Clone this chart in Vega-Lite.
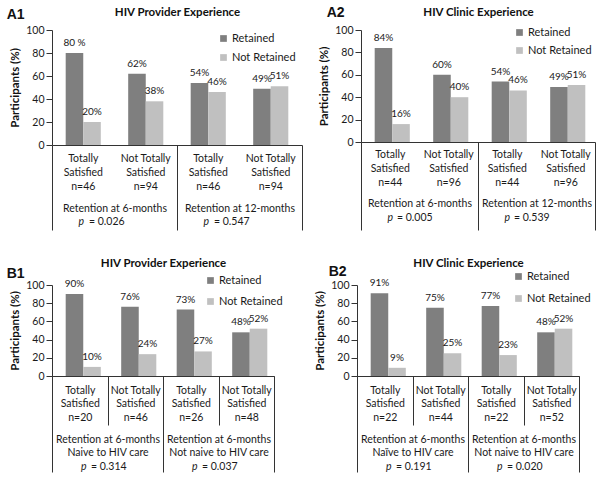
{
  "$schema": "https://vega.github.io/schema/vega-lite/v6.json",
  "padding": {"left": 6, "top": 5, "right": 2, "bottom": 2},
  "background": "white",
  "datasets": {
    "A1": [
      {"cat": "Totally|Satisfied|n=46|6", "status": "Retained", "pct": 80, "label": "80 %"},
      {"cat": "Totally|Satisfied|n=46|6", "status": "Not Retained", "pct": 20, "label": "20%"},
      {"cat": "Not Totally|Satisfied|n=94|6", "status": "Retained", "pct": 62, "label": "62%"},
      {"cat": "Not Totally|Satisfied|n=94|6", "status": "Not Retained", "pct": 38, "label": "38%"},
      {"cat": "Totally|Satisfied|n=46|12", "status": "Retained", "pct": 54, "label": "54%"},
      {"cat": "Totally|Satisfied|n=46|12", "status": "Not Retained", "pct": 46, "label": "46%"},
      {"cat": "Not Totally|Satisfied|n=94|12", "status": "Retained", "pct": 49, "label": "49%"},
      {"cat": "Not Totally|Satisfied|n=94|12", "status": "Not Retained", "pct": 51, "label": "51%"}
    ],
    "A1p": [
      {"period": "Retention at 6-months|p|= 0.026", "pct": 0},
      {"period": "Retention at 12-months|p|= 0.547", "pct": 0}
    ],
    "A2": [
      {"cat": "Totally|Satisfied|n=44|6", "status": "Retained", "pct": 84, "label": "84%"},
      {"cat": "Totally|Satisfied|n=44|6", "status": "Not Retained", "pct": 16, "label": "16%"},
      {"cat": "Not Totally|Satisfied|n=96|6", "status": "Retained", "pct": 60, "label": "60%"},
      {"cat": "Not Totally|Satisfied|n=96|6", "status": "Not Retained", "pct": 40, "label": "40%"},
      {"cat": "Totally|Satisfied|n=44|12", "status": "Retained", "pct": 54, "label": "54%"},
      {"cat": "Totally|Satisfied|n=44|12", "status": "Not Retained", "pct": 46, "label": "46%"},
      {"cat": "Not Totally|Satisfied|n=96|12", "status": "Retained", "pct": 49, "label": "49%"},
      {"cat": "Not Totally|Satisfied|n=96|12", "status": "Not Retained", "pct": 51, "label": "51%"}
    ],
    "A2p": [
      {"period": "Retention at 6-months|p|= 0.005", "pct": 0},
      {"period": "Retention at 12-months|p|= 0.539", "pct": 0}
    ],
    "B1": [
      {"cat": "Totally|Satisfied|n=20|a", "status": "Retained", "pct": 90, "label": "90%"},
      {"cat": "Totally|Satisfied|n=20|a", "status": "Not Retained", "pct": 10, "label": "10%"},
      {"cat": "Not Totally|Satisfied|n=46|a", "status": "Retained", "pct": 76, "label": "76%"},
      {"cat": "Not Totally|Satisfied|n=46|a", "status": "Not Retained", "pct": 24, "label": "24%"},
      {"cat": "Totally|Satisfied|n=26|b", "status": "Retained", "pct": 73, "label": "73%"},
      {"cat": "Totally|Satisfied|n=26|b", "status": "Not Retained", "pct": 27, "label": "27%"},
      {"cat": "Not Totally|Satisfied|n=48|b", "status": "Retained", "pct": 48, "label": "48%"},
      {"cat": "Not Totally|Satisfied|n=48|b", "status": "Not Retained", "pct": 52, "label": "52%"}
    ],
    "B1p": [
      {"period": "Retention at 6-months|Naive to HIV care|p|= 0.314", "pct": 0},
      {"period": "Retention at 6-months|Not naive to HIV care|p|= 0.037", "pct": 0}
    ],
    "B2": [
      {"cat": "Totally|Satisfied|n=22|a", "status": "Retained", "pct": 91, "label": "91%"},
      {"cat": "Totally|Satisfied|n=22|a", "status": "Not Retained", "pct": 9, "label": "9%"},
      {"cat": "Not Totally|Satisfied|n=44|a", "status": "Retained", "pct": 75, "label": "75%"},
      {"cat": "Not Totally|Satisfied|n=44|a", "status": "Not Retained", "pct": 25, "label": "25%"},
      {"cat": "Totally|Satisfied|n=22|b", "status": "Retained", "pct": 77, "label": "77%"},
      {"cat": "Totally|Satisfied|n=22|b", "status": "Not Retained", "pct": 23, "label": "23%"},
      {"cat": "Not Totally|Satisfied|n=52|b", "status": "Retained", "pct": 48, "label": "48%"},
      {"cat": "Not Totally|Satisfied|n=52|b", "status": "Not Retained", "pct": 52, "label": "52%"}
    ],
    "B2p": [
      {"period": "Retention at 6-months|Naïve to HIV care|p|= 0.191", "pct": 0},
      {"period": "Retention at 6-months|Not naive to HIV care|p|= 0.020", "pct": 0}
    ]
  },
  "resolve": {"legend": {"color": "independent"}},
  "vconcat": [
    {
      "spacing": 15,
      "resolve": {"legend": {"color": "independent"}},
      "hconcat": [
        {
          "title": {"text": "A1", "dx": -3, "dy": 19},
          "width": 250, "height": 115,
          "resolve": {"scale": {"x": "independent"}, "axis": {"x": "independent"}},
          "encoding": {
            "y": {"field": "pct", "type": "quantitative", "scale": {"domain": [0, 100], "nice": false}, "axis": {"values": [0, 20, 40, 60, 80, 100], "title": "Participants (%)"}}
          },
          "layer": [
            {
              "data": {"name": "A1"},
              "encoding": {
                "x": {"field": "cat", "type": "nominal", "sort": null, "scale": {"paddingInner": 0, "paddingOuter": 0},
                  "axis": {"title": null, "labelAngle": 0, "labelExpr": "slice(split(datum.label, '|'), 0, 3)", "ticks": false, "labelPadding": 8, "labelBaseline": "top", "labelLineHeight": 14, "labelOverlap": false, "labelBound": false}},
                "xOffset": {"field": "status", "type": "nominal", "sort": ["Retained", "Not Retained"], "scale": {"paddingOuter": 0.78, "paddingInner": 0}}
              },
              "layer": [
                {"mark": "bar", "encoding": {"color": {"field": "status", "type": "nominal", "scale": {"domain": ["Retained", "Not Retained"], "range": ["#7f7f7f", "#c0c0c0"]}, "legend": {"orient": "none", "legendX": 166, "legendY": 3, "rowPadding": 7}}}},
                {"mark": {"type": "text", "baseline": "bottom", "dy": -5}, "encoding": {"text": {"field": "label"}}}
              ]
            },
            {
              "data": {"name": "A1p"},
              "mark": {"type": "text", "opacity": 0},
              "encoding": {
                "x": {"field": "period", "type": "nominal", "sort": null, "scale": {"paddingInner": 0, "paddingOuter": 0},
                  "axis": {"orient": "bottom", "title": null, "domain": false, "ticks": true, "tickBand": "extent", "tickSize": 85, "labelPadding": -27, "labelBaseline": "top", "labelAngle": 0, "labelExpr": "split(datum.label, '|')[0]", "labelOverlap": false, "labelBound": false}},
                "text": {"value": ""}
              }
            },
            {
              "data": {"name": "A1p"},
              "mark": {"type": "text", "opacity": 0},
              "encoding": {
                "x": {"field": "period", "type": "nominal", "sort": null, "scale": {"paddingInner": 0, "paddingOuter": 0},
                  "axis": {"orient": "bottom", "title": null, "domain": false, "ticks": false, "labelPadding": 71, "labelBaseline": "top", "labelAngle": 0, "labelExpr": "split(datum.label, '|')[1]", "labelFontStyle": "italic", "labelAlign": "right", "labelOffset": -31, "labelOverlap": false, "labelBound": false}},
                "text": {"value": ""}
              }
            },
            {
              "data": {"name": "A1p"},
              "mark": {"type": "text", "opacity": 0},
              "encoding": {
                "x": {"field": "period", "type": "nominal", "sort": null, "scale": {"paddingInner": 0, "paddingOuter": 0},
                  "axis": {"orient": "bottom", "title": null, "domain": false, "ticks": false, "labelPadding": 71, "labelBaseline": "top", "labelAngle": 0, "labelExpr": "split(datum.label, '|')[2]", "labelAlign": "left", "labelOffset": -26, "labelOverlap": false, "labelBound": false}},
                "text": {"value": ""}
              }
            },
            {
              "data": {"name": "A1p"},
              "mark": {"type": "text", "opacity": 0},
              "encoding": {
                "x": {"field": "period", "type": "nominal", "sort": null, "scale": {"paddingInner": 0, "paddingOuter": 0},
                  "axis": {"orient": "top", "title": "HIV Provider Experience", "titlePadding": 12.5, "domain": false, "ticks": false, "labels": false}},
                "text": {"value": ""}
              }
            }
          ]
        },
        {
          "title": {"text": "A2", "dx": 8, "dy": 17},
          "width": 234, "height": 112,
          "resolve": {"scale": {"x": "independent"}, "axis": {"x": "independent"}},
          "encoding": {
            "y": {"field": "pct", "type": "quantitative", "scale": {"domain": [0, 100], "nice": false}, "axis": {"values": [0, 20, 40, 60, 80, 100], "title": "Participants (%)"}}
          },
          "layer": [
            {
              "data": {"name": "A2"},
              "encoding": {
                "x": {"field": "cat", "type": "nominal", "sort": null, "scale": {"paddingInner": 0, "paddingOuter": 0},
                  "axis": {"title": null, "labelAngle": 0, "labelExpr": "slice(split(datum.label, '|'), 0, 3)", "ticks": false, "labelPadding": 7, "labelBaseline": "top", "labelLineHeight": 14, "labelOverlap": false, "labelBound": false}},
                "xOffset": {"field": "status", "type": "nominal", "sort": ["Retained", "Not Retained"], "scale": {"paddingOuter": 0.78, "paddingInner": 0}}
              },
              "layer": [
                {"mark": "bar", "encoding": {"color": {"field": "status", "type": "nominal", "scale": {"domain": ["Retained", "Not Retained"], "range": ["#7f7f7f", "#c0c0c0"]}, "legend": {"orient": "none", "legendX": 153, "legendY": -3, "rowPadding": 6}}}},
                {"mark": {"type": "text", "baseline": "bottom", "dy": -5}, "encoding": {"text": {"field": "label"}}}
              ]
            },
            {
              "data": {"name": "A2p"},
              "mark": {"type": "text", "opacity": 0},
              "encoding": {
                "x": {"field": "period", "type": "nominal", "sort": null, "scale": {"paddingInner": 0, "paddingOuter": 0},
                  "axis": {"orient": "bottom", "title": null, "domain": false, "ticks": true, "tickBand": "extent", "tickSize": 88, "labelPadding": -32, "labelBaseline": "top", "labelAngle": 0, "labelExpr": "split(datum.label, '|')[0]", "labelOverlap": false, "labelBound": false}},
                "text": {"value": ""}
              }
            },
            {
              "data": {"name": "A2p"},
              "mark": {"type": "text", "opacity": 0},
              "encoding": {
                "x": {"field": "period", "type": "nominal", "sort": null, "scale": {"paddingInner": 0, "paddingOuter": 0},
                  "axis": {"orient": "bottom", "title": null, "domain": false, "ticks": false, "labelPadding": 70, "labelBaseline": "top", "labelAngle": 0, "labelExpr": "split(datum.label, '|')[1]", "labelFontStyle": "italic", "labelAlign": "right", "labelOffset": -27, "labelOverlap": false, "labelBound": false}},
                "text": {"value": ""}
              }
            },
            {
              "data": {"name": "A2p"},
              "mark": {"type": "text", "opacity": 0},
              "encoding": {
                "x": {"field": "period", "type": "nominal", "sort": null, "scale": {"paddingInner": 0, "paddingOuter": 0},
                  "axis": {"orient": "bottom", "title": null, "domain": false, "ticks": false, "labelPadding": 70, "labelBaseline": "top", "labelAngle": 0, "labelExpr": "split(datum.label, '|')[2]", "labelAlign": "left", "labelOffset": -23, "labelOverlap": false, "labelBound": false}},
                "text": {"value": ""}
              }
            },
            {
              "data": {"name": "A2p"},
              "mark": {"type": "text", "opacity": 0},
              "encoding": {
                "x": {"field": "period", "type": "nominal", "sort": null, "scale": {"paddingInner": 0, "paddingOuter": 0},
                  "axis": {"orient": "top", "title": "HIV Clinic Experience", "titlePadding": 12.5, "domain": false, "ticks": false, "labels": false}},
                "text": {"value": ""}
              }
            }
          ]
        }
      ]
    },
    {
      "spacing": 31,
      "resolve": {"legend": {"color": "independent"}},
      "hconcat": [
        {
          "title": {"text": "B1", "dx": -3, "dy": 28},
          "width": 222, "height": 91,
          "resolve": {"scale": {"x": "independent"}, "axis": {"x": "independent"}},
          "encoding": {
            "y": {"field": "pct", "type": "quantitative", "scale": {"domain": [0, 100], "nice": false}, "axis": {"values": [0, 20, 40, 60, 80, 100], "title": "Participants (%)"}}
          },
          "layer": [
            {
              "data": {"name": "B1"},
              "encoding": {
                "x": {"field": "cat", "type": "nominal", "sort": null, "scale": {"paddingInner": 0, "paddingOuter": 0},
                  "axis": {"title": null, "labelAngle": 0, "labelExpr": "slice(split(datum.label, '|'), 0, 3)", "ticks": true, "tickBand": "extent", "tickSize": 49, "labelPadding": -40, "labelBaseline": "top", "labelLineHeight": 13.5, "labelOverlap": false, "labelBound": false}},
                "xOffset": {"field": "status", "type": "nominal", "sort": ["Retained", "Not Retained"], "scale": {"paddingOuter": 0.78, "paddingInner": 0}}
              },
              "layer": [
                {"mark": "bar", "encoding": {"color": {"field": "status", "type": "nominal", "scale": {"domain": ["Retained", "Not Retained"], "range": ["#7f7f7f", "#c0c0c0"]}, "legend": {"orient": "none", "legendX": 153, "legendY": -10, "rowPadding": 9}}}},
                {"mark": {"type": "text", "baseline": "bottom", "dy": -5}, "encoding": {"text": {"field": "label"}}}
              ]
            },
            {
              "data": {"name": "B1p"},
              "mark": {"type": "text", "opacity": 0},
              "encoding": {
                "x": {"field": "period", "type": "nominal", "sort": null, "scale": {"paddingInner": 0, "paddingOuter": 0},
                  "axis": {"orient": "bottom", "title": null, "domain": false, "ticks": true, "tickBand": "extent", "tickSize": 96, "labelPadding": -38, "labelBaseline": "top", "labelLineHeight": 13.5, "labelAngle": 0, "labelExpr": "slice(split(datum.label, '|'), 0, 2)", "labelOverlap": false, "labelBound": false}},
                "text": {"value": ""}
              }
            },
            {
              "data": {"name": "B1p"},
              "mark": {"type": "text", "opacity": 0},
              "encoding": {
                "x": {"field": "period", "type": "nominal", "sort": null, "scale": {"paddingInner": 0, "paddingOuter": 0},
                  "axis": {"orient": "bottom", "title": null, "domain": false, "ticks": false, "labelPadding": 85, "labelBaseline": "top", "labelAngle": 0, "labelExpr": "split(datum.label, '|')[2]", "labelFontStyle": "italic", "labelAlign": "right", "labelOffset": -21.5, "labelOverlap": false, "labelBound": false}},
                "text": {"value": ""}
              }
            },
            {
              "data": {"name": "B1p"},
              "mark": {"type": "text", "opacity": 0},
              "encoding": {
                "x": {"field": "period", "type": "nominal", "sort": null, "scale": {"paddingInner": 0, "paddingOuter": 0},
                  "axis": {"orient": "bottom", "title": null, "domain": false, "ticks": false, "labelPadding": 85, "labelBaseline": "top", "labelAngle": 0, "labelExpr": "split(datum.label, '|')[3]", "labelAlign": "left", "labelOffset": -17, "labelOverlap": false, "labelBound": false}},
                "text": {"value": ""}
              }
            },
            {
              "data": {"name": "B1p"},
              "mark": {"type": "text", "opacity": 0},
              "encoding": {
                "x": {"field": "period", "type": "nominal", "sort": null, "scale": {"paddingInner": 0, "paddingOuter": 0},
                  "axis": {"orient": "top", "title": "HIV Provider Experience", "titlePadding": 17, "domain": false, "ticks": false, "labels": false}},
                "text": {"value": ""}
              }
            }
          ]
        },
        {
          "title": {"text": "B2", "dx": 14, "dy": 26},
          "width": 222, "height": 91,
          "resolve": {"scale": {"x": "independent"}, "axis": {"x": "independent"}},
          "encoding": {
            "y": {"field": "pct", "type": "quantitative", "scale": {"domain": [0, 100], "nice": false}, "axis": {"values": [0, 20, 40, 60, 80, 100], "title": "Participants (%)"}}
          },
          "layer": [
            {
              "data": {"name": "B2"},
              "encoding": {
                "x": {"field": "cat", "type": "nominal", "sort": null, "scale": {"paddingInner": 0, "paddingOuter": 0},
                  "axis": {"title": null, "labelAngle": 0, "labelExpr": "slice(split(datum.label, '|'), 0, 3)", "ticks": true, "tickBand": "extent", "tickSize": 49, "labelPadding": -40, "labelBaseline": "top", "labelLineHeight": 13.5, "labelOverlap": false, "labelBound": false}},
                "xOffset": {"field": "status", "type": "nominal", "sort": ["Retained", "Not Retained"], "scale": {"paddingOuter": 0.78, "paddingInner": 0}}
              },
              "layer": [
                {"mark": "bar", "encoding": {"color": {"field": "status", "type": "nominal", "scale": {"domain": ["Retained", "Not Retained"], "range": ["#7f7f7f", "#c0c0c0"]}, "legend": {"orient": "none", "legendX": 156, "legendY": -14, "rowPadding": 10}}}},
                {"mark": {"type": "text", "baseline": "bottom", "dy": -5}, "encoding": {"text": {"field": "label"}}}
              ]
            },
            {
              "data": {"name": "B2p"},
              "mark": {"type": "text", "opacity": 0},
              "encoding": {
                "x": {"field": "period", "type": "nominal", "sort": null, "scale": {"paddingInner": 0, "paddingOuter": 0},
                  "axis": {"orient": "bottom", "title": null, "domain": false, "ticks": true, "tickBand": "extent", "tickSize": 96, "labelPadding": -38, "labelBaseline": "top", "labelLineHeight": 13.5, "labelAngle": 0, "labelExpr": "slice(split(datum.label, '|'), 0, 2)", "labelOverlap": false, "labelBound": false}},
                "text": {"value": ""}
              }
            },
            {
              "data": {"name": "B2p"},
              "mark": {"type": "text", "opacity": 0},
              "encoding": {
                "x": {"field": "period", "type": "nominal", "sort": null, "scale": {"paddingInner": 0, "paddingOuter": 0},
                  "axis": {"orient": "bottom", "title": null, "domain": false, "ticks": false, "labelPadding": 85, "labelBaseline": "top", "labelAngle": 0, "labelExpr": "split(datum.label, '|')[2]", "labelFontStyle": "italic", "labelAlign": "right", "labelOffset": -21.5, "labelOverlap": false, "labelBound": false}},
                "text": {"value": ""}
              }
            },
            {
              "data": {"name": "B2p"},
              "mark": {"type": "text", "opacity": 0},
              "encoding": {
                "x": {"field": "period", "type": "nominal", "sort": null, "scale": {"paddingInner": 0, "paddingOuter": 0},
                  "axis": {"orient": "bottom", "title": null, "domain": false, "ticks": false, "labelPadding": 85, "labelBaseline": "top", "labelAngle": 0, "labelExpr": "split(datum.label, '|')[3]", "labelAlign": "left", "labelOffset": -17, "labelOverlap": false, "labelBound": false}},
                "text": {"value": ""}
              }
            },
            {
              "data": {"name": "B2p"},
              "mark": {"type": "text", "opacity": 0},
              "encoding": {
                "x": {"field": "period", "type": "nominal", "sort": null, "scale": {"paddingInner": 0, "paddingOuter": 0},
                  "axis": {"orient": "top", "title": "HIV Clinic Experience", "titlePadding": 17, "domain": false, "ticks": false, "labels": false}},
                "text": {"value": ""}
              }
            }
          ]
        }
      ]
    }
  ],
  "spacing": 26,
  "config": {
    "font": "Lato",
    "view": {"stroke": null},
    "title": {"font": "Liberation Sans", "fontSize": 14, "fontWeight": "bold", "color": "#111", "anchor": "start", "frame": "bounds", "offset": 0},
    "axis": {"labelFont": "Lato", "labelFontSize": 10.5, "labelColor": "#1a1a1a", "domainColor": "#333", "tickColor": "#333", "grid": false, "titleFont": "Lato", "titleFontSize": 11.5, "titleFontWeight": "bold", "titleColor": "#111"},
    "axisY": {"tickSize": 6, "labelPadding": 2, "titlePadding": 5, "labelOverlap": false},
    "legend": {"title": null, "symbolType": "square", "symbolSize": 45, "symbolStrokeWidth": 0, "labelFont": "Lato", "labelFontSize": 11, "labelColor": "#1a1a1a", "labelOffset": 3, "padding": 0},
    "text": {"font": "Lato", "fontSize": 10, "color": "#1a1a1a"}
  }
}
